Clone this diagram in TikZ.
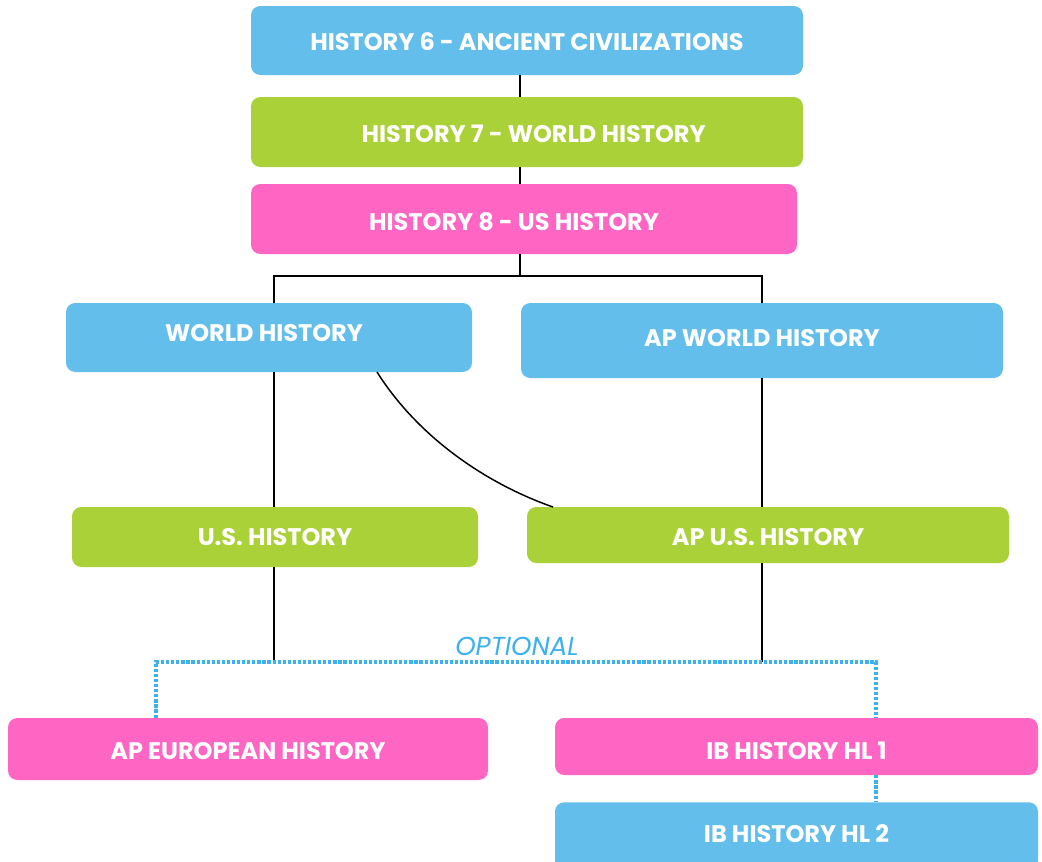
\documentclass[tikz,border=0pt]{standalone}
\usepackage{fontspec}
\setmainfont{Poppins}
\definecolor{cblue}{HTML}{63BEEB}
\definecolor{cgreen}{HTML}{AAD137}
\definecolor{cpink}{HTML}{FF66C4}
\definecolor{dotblue}{HTML}{3DB0F0}
\newcommand{\shiftedtext}[2]{\raisebox{#1}[\height][\depth]{#2}}
\begin{document}
\begin{tikzpicture}[x=0.75pt,y=-0.75pt,
  box/.style={rectangle, rounded corners=7pt, draw=none, text=white, inner sep=0pt,
    font=\bfseries\fontsize{18}{21}\selectfont},
  conn/.style={black, line width=1.1pt},
  opt/.style={draw=dotblue, line width=2.8pt, dash pattern=on 2.4pt off 1.4pt},
  optlabel/.style={text=dotblue, font=\itshape\fontsize{19.5}{22}\selectfont, inner sep=0pt}]
\useasboundingbox (0,0) rectangle (1042,861);

\node[box, fill=cblue,  minimum width=552*0.75pt, minimum height=69*0.75pt] (h6) at (527,40.5) {\shiftedtext{-0.75pt}{HISTORY 6 - ANCIENT CIVILIZATIONS}};
\node[box, fill=cgreen, minimum width=552*0.75pt, minimum height=70*0.75pt] (h7) at (527,132) {\hspace{10pt}\shiftedtext{-1.5pt}{HISTORY 7 - WORLD HISTORY}};
\node[box, fill=cpink,  minimum width=546*0.75pt, minimum height=70*0.75pt] (h8) at (524,219) {\shiftedtext{-2.25pt}{HISTORY 8 - US HISTORY}\hspace{15pt}\mbox{}};

\node[box, fill=cblue,  minimum width=406*0.75pt, minimum height=69*0.75pt] (wh) at (269,337.5) {\shiftedtext{3.5pt}{WORLD HISTORY}\hspace{7.5pt}\mbox{}};
\node[box, fill=cblue,  minimum width=482*0.75pt, minimum height=75*0.75pt] (apwh) at (762,340.5) {\shiftedtext{1.5pt}{AP WORLD HISTORY}};

\node[box, fill=cgreen, minimum width=406*0.75pt, minimum height=60*0.75pt] (ush) at (275,537) {U.S. HISTORY};
\node[box, fill=cgreen, minimum width=482*0.75pt, minimum height=56*0.75pt] (apus) at (768,535) {\shiftedtext{-1.5pt}{AP U.S. HISTORY}};

\node[box, fill=cpink,  minimum width=480*0.75pt, minimum height=62*0.75pt] (apeu) at (248,749) {\shiftedtext{-1.5pt}{AP EUROPEAN HISTORY}};
\node[box, fill=cpink,  minimum width=483*0.75pt, minimum height=57*0.75pt] (ib1) at (796.5,746.5) {\shiftedtext{-3pt}{IB HISTORY HL 1}};
\node[box, fill=cblue,  minimum width=483*0.75pt, minimum height=68*0.75pt, anchor=north] (ib2) at (796.5,802) {\shiftedtext{2pt}{IB HISTORY HL 2}};

\node[optlabel] (optional) at (517,646) {OPTIONAL};

% coordinates
\coordinate (cx) at (520,0);
\coordinate (split) at (520,276);
\coordinate (lx) at (274,0);
\coordinate (rx) at (762,0);
\coordinate (jl) at (274,662);
\coordinate (jr) at (762,662);
\coordinate (ol) at (156,662);
\coordinate (or) at (876,662);

% trunk
\draw[conn] (h6.south -| cx) -- (h7.north -| cx);
\draw[conn] (h7.south -| cx) -- (h8.north -| cx);
\draw[conn] (h8.south -| cx) -- (split);
\draw[conn] (wh.north -| lx) |- (split) -| (apwh.north -| rx);

% second level
\draw[conn] (wh.south -| lx) -- (ush.north -| lx);
\draw[conn] (apwh.south -| rx) -- (apus.north -| rx);
\draw[conn] (377,372) .. controls (420,440) and (490,485) .. (553,507);

% to optional bar
\draw[conn] (ush.south -| lx) -- (jl);
\draw[conn] (apus.south -| rx) -- (jr);

% optional dotted
\draw[opt] (apeu.north -| ol) -- (ol) -- (or) -- (ib1.north -| or);
\draw[opt] (ib1.south -| or) -- (ib2.north -| or);
\end{tikzpicture}
\end{document}
